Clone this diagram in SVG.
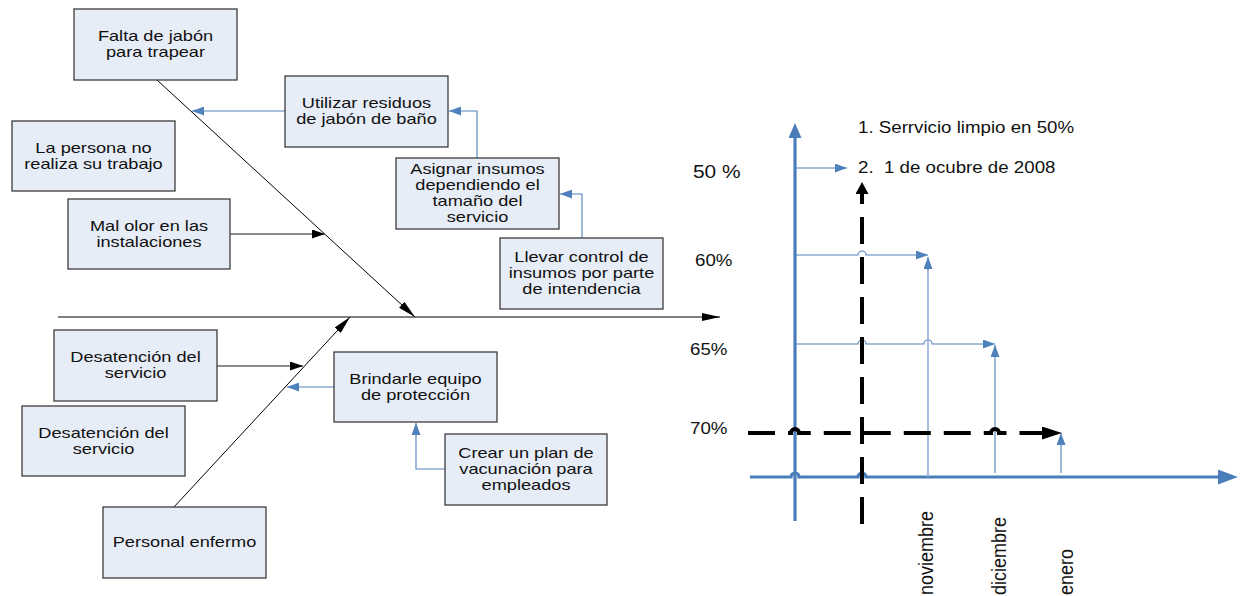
<svg xmlns="http://www.w3.org/2000/svg" width="1243" height="596" viewBox="0 0 1243 596">
  <style>
    .box { fill: #E7EDF7; stroke: #3c3c3c; stroke-width: 1.3; }
    .lbl { font-family: "Liberation Sans", Arial, sans-serif; font-size: 14px; fill: #111; text-anchor: middle; }
    .axl { font-family: "Liberation Sans", Arial, sans-serif; font-size: 17px; fill: #111; white-space: pre; }
    .bone { fill: none; stroke: #000; stroke-width: 1; }
    .feed { fill: none; stroke: #666; stroke-width: 1.6; }
    .fix { fill: none; stroke: #4F81BD; stroke-width: 1.1; }
    .axis { fill: none; stroke: #4A7EBB; stroke-width: 3.2; }
    .lvl { fill: none; stroke: #4F81BD; stroke-width: 1.1; }
    .lvl-light { fill: none; stroke: #8FB0DC; stroke-width: 1.6; }
    .goal { fill: none; stroke: #000; stroke-width: 4; stroke-dasharray: 27 13; }
  </style>
  <defs>
    <marker id="ah-black" markerUnits="userSpaceOnUse" markerWidth="18" markerHeight="8" refX="18" refY="4" orient="auto">
      <path d="M0,0 L18,4 L0,8 z" fill="#000"/>
    </marker>
    <marker id="ah-black-s" markerUnits="userSpaceOnUse" markerWidth="13" markerHeight="9" refX="13" refY="4.5" orient="auto">
      <path d="M0,0 L13,4.5 L0,9 z" fill="#000"/>
    </marker>
    <marker id="ah-blue" markerUnits="userSpaceOnUse" markerWidth="12" markerHeight="9" refX="12" refY="4.5" orient="auto">
      <path d="M0,0 L12,4.5 L0,9 z" fill="#4F81BD"/>
    </marker>
    <marker id="ah-axis-v" markerUnits="userSpaceOnUse" markerWidth="15" markerHeight="13" refX="0" refY="6.5" orient="auto">
      <path d="M0,0 L15,6.5 L0,13 z" fill="#4A7EBB"/>
    </marker>
    <marker id="ah-axis-h" markerUnits="userSpaceOnUse" markerWidth="20" markerHeight="15" refX="0" refY="7.5" orient="auto">
      <path d="M0,0 L20,7.5 L0,15 z" fill="#4A7EBB"/>
    </marker>
    <marker id="ah-goal-v" markerUnits="userSpaceOnUse" markerWidth="12" markerHeight="13" refX="0" refY="6.5" orient="auto">
      <path d="M0,0 L12,6.5 L0,13 z" fill="#000"/>
    </marker>
    <marker id="ah-goal-h" markerUnits="userSpaceOnUse" markerWidth="20" markerHeight="13" refX="0" refY="6.5" orient="auto">
      <path d="M0,0 L20,6.5 L0,13 z" fill="#000"/>
    </marker>
  </defs>

  <!-- fishbone connectors -->
  <g id="connectors">
    <line class="bone" x1="58" y1="317" x2="720" y2="317" marker-end="url(#ah-black)"/>
    <line class="bone" x1="157" y1="80" x2="415" y2="317" marker-end="url(#ah-black)"/>
    <line class="bone" x1="174" y1="507" x2="350" y2="317" marker-end="url(#ah-black)"/>
    <line class="feed" x1="230" y1="234" x2="325" y2="234" marker-end="url(#ah-black-s)"/>
    <line class="feed" x1="217" y1="366" x2="303" y2="366" marker-end="url(#ah-black-s)"/>
    <line class="fix" x1="285" y1="111" x2="192" y2="111" marker-end="url(#ah-blue)"/>
    <polyline class="fix" points="477,158 477,111 449,111" marker-end="url(#ah-blue)"/>
    <polyline class="fix" points="582,238 582,194 560,194" marker-end="url(#ah-blue)"/>
    <line class="fix" x1="334" y1="387" x2="287" y2="387" marker-end="url(#ah-blue)"/>
    <polyline class="fix" points="445,469 416,469 416,423" marker-end="url(#ah-blue)"/>
  </g>

  <!-- cause boxes -->
  <g id="falta-jabon">
    <rect class="box" x="74" y="9" width="163" height="71"/>
    <g transform="translate(155.5,0) scale(1.3,1)"><text class="lbl" y="41.5">Falta de jabón</text><text class="lbl" y="57.5">para trapear</text></g>
  </g>
  <g id="persona-no-trabaja">
    <rect class="box" x="12" y="121" width="163" height="70"/>
    <g transform="translate(93.5,0) scale(1.3,1)"><text class="lbl" y="153">La persona no</text><text class="lbl" y="169">realiza su trabajo</text></g>
  </g>
  <g id="mal-olor">
    <rect class="box" x="68" y="199" width="162" height="70"/>
    <g transform="translate(149,0) scale(1.3,1)"><text class="lbl" y="231">Mal olor en las</text><text class="lbl" y="247">instalaciones</text></g>
  </g>
  <g id="utilizar-residuos">
    <rect class="box" x="285" y="76" width="163" height="71"/>
    <g transform="translate(366.5,0) scale(1.3,1)"><text class="lbl" y="108.5">Utilizar residuos</text><text class="lbl" y="124.5">de jabón de baño</text></g>
  </g>
  <g id="asignar-insumos">
    <rect class="box" x="396" y="158" width="163" height="71"/>
    <g transform="translate(477.5,0) scale(1.3,1)"><text class="lbl" y="174.5">Asignar insumos</text><text class="lbl" y="190.5">dependiendo el</text><text class="lbl" y="206.5">tamaño del</text><text class="lbl" y="222.5">servicio</text></g>
  </g>
  <g id="llevar-control">
    <rect class="box" x="500" y="238" width="163" height="71"/>
    <g transform="translate(581.5,0) scale(1.3,1)"><text class="lbl" y="262.5">Llevar control de</text><text class="lbl" y="278.5">insumos por parte</text><text class="lbl" y="294.5">de intendencia</text></g>
  </g>
  <g id="desatencion-1">
    <rect class="box" x="54" y="330" width="163" height="71"/>
    <g transform="translate(135.5,0) scale(1.3,1)"><text class="lbl" y="362.5">Desatención del</text><text class="lbl" y="378.5">servicio</text></g>
  </g>
  <g id="desatencion-2">
    <rect class="box" x="22" y="406" width="163" height="70"/>
    <g transform="translate(103.5,0) scale(1.3,1)"><text class="lbl" y="438">Desatención del</text><text class="lbl" y="454">servicio</text></g>
  </g>
  <g id="personal-enfermo">
    <rect class="box" x="103" y="507" width="163" height="71"/>
    <g transform="translate(184.5,0) scale(1.3,1)"><text class="lbl" y="547.5">Personal enfermo</text></g>
  </g>
  <g id="equipo-proteccion">
    <rect class="box" x="334" y="352" width="163" height="70"/>
    <g transform="translate(415.5,0) scale(1.3,1)"><text class="lbl" y="384">Brindarle equipo</text><text class="lbl" y="400">de protección</text></g>
  </g>
  <g id="plan-vacunacion">
    <rect class="box" x="445" y="434" width="162" height="71"/>
    <g transform="translate(526,0) scale(1.3,1)"><text class="lbl" y="458.5">Crear un plan de</text><text class="lbl" y="474.5">vacunación para</text><text class="lbl" y="490.5">empleados</text></g>
  </g>

  <!-- progress chart -->
  <g id="chart">
    <path class="axis" d="M795,521 V138" marker-end="url(#ah-axis-v)"/>
    <path class="axis" d="M750,477 H791 a4,4 0 0 1 8,0 H858 a4,4 0 0 1 8,0 H1218" marker-end="url(#ah-axis-h)"/>
    <path class="lvl" d="M795,168 H847" marker-end="url(#ah-blue)"/>
    <path class="lvl" d="M795,255 H858 a4,4 0 0 1 8,0 H928" marker-end="url(#ah-blue)"/>
    <path class="lvl" d="M795,344 H858 a4,4 0 0 1 8,0 H924 a4,4 0 0 1 8,0 H995" marker-end="url(#ah-blue)"/>
    <path class="lvl-light" d="M928,477 V268"/>
    <path class="lvl" d="M928,270 V257" marker-end="url(#ah-blue)"/>
    <path class="lvl" d="M995,473 V345" marker-end="url(#ah-blue)"/>
    <path class="lvl" d="M1061,473 V433" marker-end="url(#ah-blue)"/>
    <path class="goal" d="M862,524 V194" marker-end="url(#ah-goal-v)"/>
    <path class="goal" d="M748,433 H791 a4,4 0 0 1 8,0 H991 a4,4 0 0 1 8,0 H1042" marker-end="url(#ah-goal-h)"/>

    <g transform="translate(693,178) scale(1.1,1)"><text class="axl" style="font-size:19px">50 %</text></g>
    <g transform="translate(695,266) scale(1.1,1)"><text class="axl">60%</text></g>
    <g transform="translate(690,355) scale(1.1,1)"><text class="axl">65%</text></g>
    <g transform="translate(690,434) scale(1.1,1)"><text class="axl">70%</text></g>
    <g transform="translate(858,133) scale(1.1,1)"><text class="axl">1. Serrvicio limpio en 50%</text></g>
    <g transform="translate(858,172.5) scale(1.1,1)"><text class="axl">2.  1 de ocubre de 2008</text></g>

    <text class="axl" style="font-size:18px" transform="translate(933,595) rotate(-90) scale(1,1.1)">noviembre</text>
    <text class="axl" style="font-size:18px" transform="translate(1006,595) rotate(-90) scale(1,1.1)">diciembre</text>
    <text class="axl" style="font-size:18px" transform="translate(1073,595) rotate(-90) scale(1,1.1)">enero</text>
  </g>
</svg>
